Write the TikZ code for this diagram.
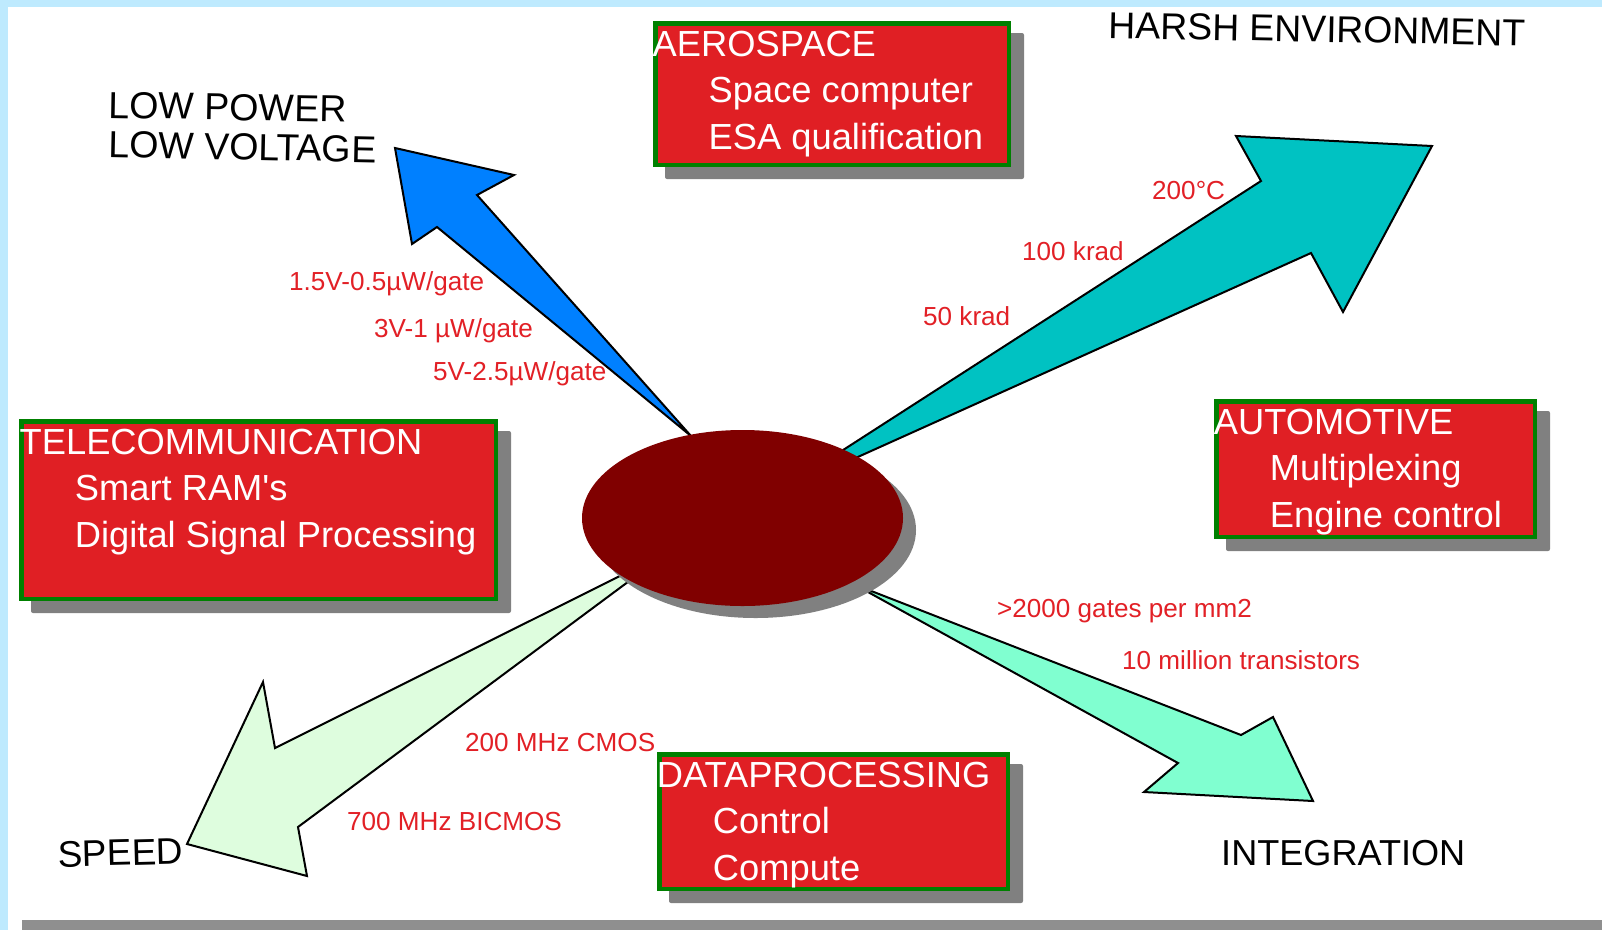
\documentclass[tikz,border=0pt]{standalone}
\usepackage{fontspec}
\setmainfont{Liberation Sans}[Ligatures=TeXOff]
\usetikzlibrary{calc,shapes.geometric}
\definecolor{skyBand}{RGB}{190,234,254}
\definecolor{barGray}{RGB}{143,143,143}
\definecolor{shadeGray}{RGB}{128,128,128}
\definecolor{boxRed}{RGB}{224,31,36}
\definecolor{boxGreen}{RGB}{0,128,0}
\definecolor{labRed}{RGB}{226,32,38}
\definecolor{coreRed}{RGB}{128,0,0}
\definecolor{arrBlue}{RGB}{0,128,255}
\definecolor{arrCyan}{RGB}{0,194,194}
\definecolor{arrPale}{RGB}{222,253,222}
\definecolor{arrAqua}{RGB}{128,255,208}
\newcommand\fsBox{\fontsize{36.3}{43}\selectfont}
\newcommand\fsRed{\fontsize{26.1}{30}\selectfont}
\begin{document}
\begin{tikzpicture}[x=1pt,y=-1pt,
  arrowshape/.style={draw=black,line width=2pt,line join=miter},
  shadowbox/.style={fill=shadeGray,rounded corners=2pt},
  redbox/.style={rectangle,fill=boxRed,draw=boxGreen,line width=4.5pt,inner sep=0pt},
  boxtext/.style={text=white,font=\fsBox,anchor=base west,inner sep=0pt},
  bigLabel/.style={text=black,anchor=base west,inner sep=0pt},
  redLabel/.style={text=labRed,font=\fsRed,anchor=base west,inner sep=0pt},
  coreShape/.style={ellipse,minimum width=321pt,minimum height=176pt,inner sep=0pt}]
\useasboundingbox (0,0) rectangle (1602,930);
\fill[white] (0,0) rectangle (1602,930);
\fill[skyBand] (0,0) rectangle (1602,7);
\fill[skyBand] (0,0) rectangle (8,930);
\fill[barGray] (22,920) rectangle (1602,930);

% arrows
\draw[arrowshape,fill=arrBlue] (691,436) -- (437,227) -- (412,244) -- (395,148) -- (514,175) -- (477,195) -- cycle;
\draw[arrowshape,fill=arrCyan] (826,461) -- (1261,181) -- (1236,136) -- (1432,146) -- (1343,312) -- (1311,253) -- (840,465) -- cycle;
\draw[arrowshape,fill=arrPale] (640,566) -- (275,748) -- (263,682) -- (187,844) -- (307,876) -- (298,827) -- (644,570) -- cycle;
\draw[arrowshape,fill=arrAqua] (843,580) -- (1241,735) -- (1273,717) -- (1313,801) -- (1144,792) -- (1178,763) -- (848,581) -- cycle;

% central ellipse
\node[coreShape,fill=shadeGray] (coreshadow) at (755.5,530) {};
\node[coreShape,fill=coreRed] (core) at (742.5,518) {};

% boxes: shadows
\fill[shadowbox] (665,33) rectangle (1024,179);
\fill[shadowbox] (31,431) rectangle (511,613);
\fill[shadowbox] (1226,411) rectangle (1550,551);
\fill[shadowbox] (669,764) rectangle (1023,903);

% boxes
\node[redbox,minimum width=353.5pt,minimum height=141.5pt] (aero) at (832,94) {};
\node[redbox,minimum width=474.5pt,minimum height=177.5pt] (tele) at (258.5,510) {};
\node[redbox,minimum width=318.5pt,minimum height=135.5pt] (auto) at (1375.5,469) {};
\node[redbox,minimum width=348.5pt,minimum height=134.5pt] (data) at (833.5,821.5) {};

\node[boxtext] (aeroT) at ($(aero.north west)+(-0.5,35.75)$) {AEROSPACE};
\node[boxtext] (aeroA) at ($(aero.north west)+(55.5,81.75)$) {Space computer};
\node[boxtext] (aeroB) at ($(aero.north west)+(55.5,128.75)$) {ESA qualification};

\node[boxtext] (teleT) at ($(tele.north west)+(0.5,35.75)$) {TELECOMMUNICATION};
\node[boxtext] (teleA) at ($(tele.north west)+(55.75,81.75)$) {Smart RAM's};
\node[boxtext] (teleB) at ($(tele.north west)+(55.75,128.75)$) {Digital Signal Processing};

\node[boxtext] (autoT) at ($(auto.north west)+(-0.25,35.75)$) {AUTOMOTIVE};
\node[boxtext] (autoA) at ($(auto.north west)+(55.75,81.75)$) {Multiplexing};
\node[boxtext] (autoB) at ($(auto.north west)+(55.75,128.75)$) {Engine control};

\node[boxtext] (dataT) at ($(data.north west)+(-0.25,35.75)$) {DATAPROCESSING};
\node[boxtext] (dataA) at ($(data.north west)+(55.75,81.75)$) {Control};
\node[boxtext] (dataB) at ($(data.north west)+(55.75,128.75)$) {Compute};

% big labels
\node[bigLabel,font=\fontsize{37.6}{44}\selectfont,rotate=-1.0] (lp1) at (108,118) {LOW POWER};
\node[bigLabel,font=\fontsize{37.6}{44}\selectfont,rotate=-1.2] (lp2) at (108,157) {LOW VOLTAGE};
\node[bigLabel,font=\fontsize{37.4}{44}\selectfont,rotate=-1.1] (harsh) at (1108,38) {HARSH ENVIRONMENT};
\node[bigLabel,font=\fontsize{37}{44}\selectfont,rotate=1.5] (speed) at (58,867) {SPEED};
\node[bigLabel,font=\fontsize{36.1}{44}\selectfont] (integ) at (1221,865) {INTEGRATION};

% red labels
\node[redLabel] (r1) at (289,290) {1.5V-0.5µW/gate};
\node[redLabel] (r2) at (374,337) {3V-1 µW/gate};
\node[redLabel] (r3) at (433,380) {5V-2.5µW/gate};
\node[redLabel] (r4) at (1152,199) {200°C};
\node[redLabel] (r5) at (1022,260) {100 krad};
\node[redLabel] (r6) at (923,325) {50 krad};
\node[redLabel] (r7) at (997,617) {>2000 gates per mm2};
\node[redLabel] (r8) at (1122,669) {10 million transistors};
\node[redLabel] (r9) at (465,751) {200 MHz CMOS};
\node[redLabel] (r10) at (347,830) {700 MHz BICMOS};
\end{tikzpicture}
\end{document}
